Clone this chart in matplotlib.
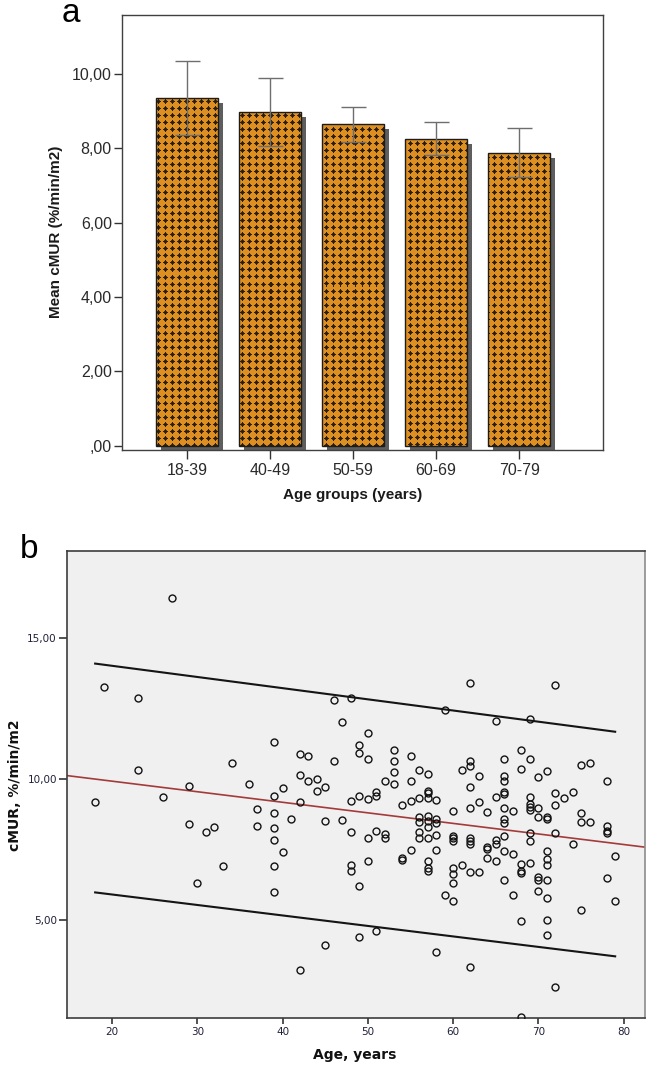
import numpy as np
import matplotlib
matplotlib.use("Agg")
import matplotlib.pyplot as plt
from matplotlib import patheffects as pe

# ---------------- data: panel a ----------------
age_groups = ["18-39", "40-49", "50-59", "60-69", "70-79"]
mean_cmur = [9.35, 8.97, 8.65, 8.25, 7.87]
ci_upper = [10.34, 9.89, 9.12, 8.71, 8.54]
ci_lower = [8.36, 8.06, 8.16, 7.81, 7.24]
bar_yticks = [0, 2, 4, 6, 8, 10]
bar_yticklabels = [",00", "2,00", "4,00", "6,00", "8,00", "10,00"]

# ---------------- data: panel b ----------------
age = [18, 19, 23, 23, 26, 27, 29, 29, 30, 31, 32, 33, 34, 36, 37, 37,
       39, 39, 39, 39, 39, 39, 39, 40, 40, 41, 42, 42, 42, 42, 43, 43, 44, 44,
       45, 45, 45, 46, 46, 47, 47, 48, 48, 48, 48, 48, 49, 49, 49, 49, 49,
       50, 50, 50, 50, 50, 51, 51, 51, 51, 52, 52, 52, 53, 53, 53, 53,
       54, 54, 54, 55, 55, 55, 55, 56, 56, 56, 56, 56, 56,
       57, 57, 57, 57, 57, 57, 57, 57, 57, 57, 57,
       58, 58, 58, 58, 58, 58, 59, 59, 60, 60, 60, 60, 60, 60, 60, 60, 61, 61,
       62, 62, 62, 62, 62, 62, 62, 62, 62, 62, 63, 63, 63, 64, 64, 64, 64,
       65, 65, 65, 65, 65, 66, 66, 66, 66, 66, 66, 66, 66, 66, 66, 66,
       67, 67, 67, 68, 68, 68, 68, 68, 68, 68, 69, 69, 69, 69, 69, 69, 69, 69, 69,
       70, 70, 70, 70, 70, 70, 71, 71, 71, 71, 71, 71, 71, 71, 71, 71,
       72, 72, 72, 72, 72, 73, 74, 74, 75, 75, 75, 75, 76, 76,
       78, 78, 78, 78, 78, 79, 79]
cmur = [9.19, 13.26, 12.85, 10.30, 9.35, 16.39, 9.75, 8.40, 6.33, 8.13, 8.32, 6.91, 10.55, 9.81, 8.93, 8.33,
        11.30, 9.41, 8.79, 8.26, 7.85, 6.92, 6.00, 9.67, 7.42, 8.58, 10.87, 10.14, 9.17, 3.25, 10.80, 9.93, 10.00, 9.59,
        9.70, 8.50, 4.12, 12.81, 10.64, 12.03, 8.55, 12.88, 9.23, 8.12, 6.97, 6.75, 11.20, 10.91, 9.41, 6.22, 4.42,
        11.62, 10.70, 9.29, 7.92, 7.11, 9.54, 9.41, 8.16, 4.63, 9.94, 8.06, 7.93, 11.03, 10.62, 10.25, 9.81,
        9.07, 7.19, 7.15, 10.80, 9.92, 9.22, 7.48, 10.30, 9.33, 8.66, 8.48, 8.14, 7.90,
        10.19, 9.59, 9.52, 9.33, 8.69, 8.50, 8.30, 7.92, 7.10, 6.87, 6.74,
        9.25, 8.58, 8.43, 8.02, 7.49, 3.88, 12.44, 5.91, 8.88, 8.00, 7.91, 7.81, 6.86, 6.64, 6.33, 5.69, 10.30, 6.96,
        13.41, 10.65, 10.46, 9.71, 8.98, 7.92, 7.81, 7.71, 6.71, 3.37, 10.10, 9.19, 6.71, 8.82, 7.60, 7.52, 7.19,
        12.05, 9.35, 7.84, 7.69, 7.11, 10.72, 10.10, 9.92, 9.54, 9.46, 8.97, 8.59, 8.46, 8.00, 7.44, 6.43,
        8.87, 7.34, 5.91, 11.03, 10.36, 7.01, 6.75, 6.68, 4.98, 1.58, 12.11, 10.72, 9.35, 9.11, 9.02, 8.92, 8.08, 7.79, 7.02,
        10.06, 8.99, 8.64, 6.54, 6.42, 6.04, 10.29, 8.64, 8.59, 7.47, 7.18, 6.95, 6.42, 5.80, 5.02, 4.48,
        13.34, 9.50, 9.07, 8.09, 2.66, 9.32, 9.55, 7.69, 10.50, 8.79, 8.49, 5.38, 10.57, 8.48,
        9.92, 8.35, 8.16, 8.10, 6.50, 7.27, 5.70]
fit_age = [14.7, 82.5]
fit_cmur = [10.12, 7.59]
pi_age = [18, 79]
pi_upper = [14.08, 11.67]
pi_lower = [5.99, 3.73]
sc_xticks = [20, 30, 40, 50, 60, 70, 80]
sc_yticks = [5, 10, 15]
sc_yticklabels = ["5,00", "10,00", "15,00"]

# ---------------- figure ----------------
W, H, DPI = 648, 1068, 100
plt.rcParams["font.family"] = ["Liberation Sans", "DejaVu Sans"]
fig = plt.figure(figsize=(W / DPI, H / DPI), dpi=DPI)
fig.patch.set_facecolor("white")


def px_axes(l, t, r, b):
    return fig.add_axes([l / W, 1 - b / H, (r - l) / W, (b - t) / H])


# ================= panel a =================
ax1 = px_axes(122, 15, 603, 450)
XL1, YL1 = (-0.78, 5.01), (-0.116, 11.59)
ax1.set_xlim(*XL1)
ax1.set_ylim(*YL1)
xpos = np.arange(len(age_groups))
orange = np.array([0xDE, 0x8F, 0x22]) / 255.0
dark = np.array([0x2A, 0x1E, 0x0E]) / 255.0

bars = ax1.bar(xpos, mean_cmur, width=0.75, color=orange, edgecolor="none", zorder=2)
for b in bars:
    b.set_path_effects([pe.SimplePatchShadow(offset=(3.6, -3.6), shadow_rgbFace="#5e5e5e", alpha=1.0),
                        pe.Normal()])

tile = np.array([
    [0, 0, 0, 0, 0, 0, 0],
    [0, 0, 0, 1, 0, 0, 0],
    [0, 0, .8, 1, .8, 0, 0],
    [0, 1, 1, 1, 1, 1, 0],
    [0, 0, .8, 1, .8, 0, 0],
    [0, 0, 0, 1, 0, 0, 0],
    [0, 0, 0, 0, 0, 0, 0]])
P = tile.shape[0]
for b in bars:
    x0, x1 = b.get_x(), b.get_x() + b.get_width()
    y1 = b.get_height()
    (px0, py0), (px1, py1) = ax1.transData.transform([(x0, 0), (x1, y1)])
    wpx, hpx = int(round(px1 - px0)), int(round(py1 - py0))
    cols = np.arange(int(px0), int(px0) + wpx) % P
    rows = np.arange(int(H - py1), int(H - py1) + hpx) % P
    t = tile[np.ix_(rows, cols)][..., None]
    rgb = orange * (1 - t) + dark * t
    im = ax1.imshow(rgb, extent=(x0, x1, 0, y1), origin="upper", interpolation="nearest",
                    aspect="auto", zorder=3)
    im.set_clip_path(b)

ax1.bar(xpos, mean_cmur, width=0.75, facecolor="none", edgecolor="#1c1c1c", lw=1.0, zorder=4)
m = np.array(mean_cmur)
ax1.errorbar(xpos, m, yerr=[m - np.array(ci_lower), np.array(ci_upper) - m], fmt="none",
             ecolor="#6e6e6e", elinewidth=1.0, capsize=9, capthick=1.0, zorder=5)
ax1.set_xlim(*XL1)
ax1.set_ylim(*YL1)
ax1.set_xticks(xpos)
ax1.set_xticklabels(age_groups)
ax1.set_yticks(bar_yticks)
ax1.set_yticklabels(bar_yticklabels)
ax1.tick_params(axis="y", direction="out", length=5.8, width=1, color="#333333", pad=1.5,
                labelsize=11.5, labelcolor="#2a2a2a")
ax1.tick_params(axis="x", direction="out", length=6.5, width=1, color="#333333", pad=3,
                labelsize=11.5, labelcolor="#2a2a2a")
for s in ax1.spines.values():
    s.set_color("#404040")
    s.set_linewidth(1.0)
fig.text(56 / W, 1 - 232 / H, "Mean cMUR (%/min/m2)", rotation=90, ha="center", va="center",
         fontsize=11, fontweight="bold", color="#1a1a1a")
fig.text(353 / W, 1 - 495 / H, "Age groups (years)", ha="center", va="center",
         fontsize=11, fontweight="bold", color="#1a1a1a")
fig.text(62 / W, 1 - 22 / H, "a", ha="left", va="baseline", fontsize=24, color="black")

# ================= panel b =================
ax2 = px_axes(67, 551, 645, 1018)
ax2.set_facecolor("#F0F0F0")
ax2.plot(pi_age, pi_upper, color="#151515", lw=1.5, zorder=2)
ax2.plot(pi_age, pi_lower, color="#151515", lw=1.5, zorder=2)
ax2.plot(fit_age, fit_cmur, color="#A33B3B", lw=1.2, zorder=2)
ax2.plot(age, cmur, "o", mfc="none", mec="#121212", ms=5.0, mew=1.0, zorder=3)
ax2.set_xlim(14.7, 82.5)
ax2.set_ylim(1.55, 18.06)
ax2.set_xticks(sc_xticks)
ax2.set_yticks(sc_yticks)
ax2.set_yticklabels(sc_yticklabels)
for lab in ax2.get_xticklabels() + ax2.get_yticklabels():
    lab.set_family(["DejaVu Sans"])
ax2.tick_params(axis="y", direction="out", length=5.8, width=1.2, color="#333333", pad=1.5,
                labelsize=7.5, labelcolor="#20203a")
ax2.tick_params(axis="x", direction="out", length=4, width=1.2, color="#333333", pad=2.5,
                labelsize=7.5, labelcolor="#20203a")
for k, s in ax2.spines.items():
    s.set_color("#3c3c3c" if k != "right" else "#8c8c8c")
    s.set_linewidth(1.2)
fig.text(15 / W, 1 - 785 / H, "cMUR, %/min/m2", rotation=90, ha="center", va="center",
         fontsize=10, fontweight="bold", family=["DejaVu Sans"], color="#111111")
fig.text(355 / W, 1 - 1055 / H, "Age, years", ha="center", va="center",
         fontsize=10, fontweight="bold", family=["DejaVu Sans"], color="#111111")
fig.text(20 / W, 1 - 558 / H, "b", ha="left", va="baseline", fontsize=24, color="black")

fig.savefig("out.png", dpi=DPI, facecolor="white")
